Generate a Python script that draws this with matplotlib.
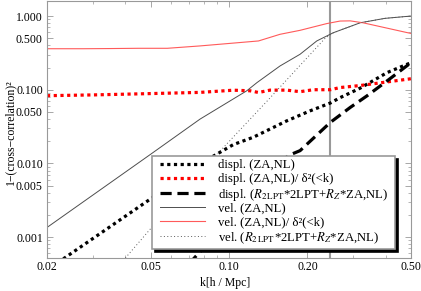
import matplotlib
matplotlib.use("Agg")
import matplotlib.pyplot as plt
from matplotlib.lines import Line2D
from matplotlib.legend_handler import HandlerLine2D
from matplotlib.ticker import FixedLocator, FixedFormatter, NullFormatter

plt.rcParams['font.family'] = ['Liberation Serif', 'DejaVu Serif']
plt.rcParams['mathtext.fontset'] = 'stix'

# values
k_displ_za = [0.022, 0.05, 0.0845, 0.1039, 0.1238, 0.1396, 0.1667, 0.2047, 0.245, 0.267, 0.319, 0.405, 0.5]
displ_za = [0.00045, 0.0033, 0.0118, 0.0180, 0.0226, 0.0278, 0.0378, 0.0516, 0.066, 0.078, 0.105, 0.171, 0.233]

k_displ_ratio = [0.02, 0.03, 0.04, 0.06, 0.0774, 0.1039, 0.1205, 0.1298, 0.1438, 0.1667, 0.1875, 0.2108, 0.245, 0.267, 0.319, 0.5]
displ_ratio = [0.083, 0.085, 0.087, 0.09, 0.092, 0.0985, 0.0967, 0.0917, 0.0987, 0.0987, 0.094, 0.1, 0.1, 0.107, 0.114, 0.141]

k_displ_2lpt = [0.07, 0.0734, 0.1686, 0.1875, 0.245, 0.292, 0.339, 0.405, 0.5]
displ_2lpt = [0.00043, 0.000515, 0.01275, 0.0149, 0.036, 0.0574, 0.0827, 0.132, 0.233]

k_vel_za = [0.02, 0.05, 0.0774, 0.117, 0.1281, 0.157, 0.1875, 0.2173, 0.2517, 0.319, 0.397, 0.5]
vel_za = [0.00135, 0.0133, 0.0399, 0.0967, 0.125, 0.21, 0.303, 0.459, 0.594, 0.81, 0.93, 1.0]

k_vel_ratio = [0.02, 0.0275, 0.035, 0.045, 0.058, 0.0774, 0.1298, 0.157, 0.1875, 0.2374, 0.267, 0.292, 0.327, 0.5]
vel_ratio = [0.36, 0.36, 0.362, 0.365, 0.365, 0.393, 0.459, 0.565, 0.64, 0.79, 0.855, 0.86, 0.81, 0.58]

k_vel_2lpt = [0.04, 0.05, 0.0845, 0.14, 0.234, 0.2517, 0.319, 0.397, 0.5]
vel_2lpt = [0.00052, 0.0013, 0.0105, 0.07, 0.5, 0.594, 0.81, 0.93, 1.0]

k_line = 0.245

labels = [
    'displ. (ZA,NL)',
    'displ. (ZA,NL)/ δ²(<k)',
    r'displ. ($R_{2\,\mathrm{LPT}}$*2LPT+$R_{Z}$*ZA,NL)',
    'vel. (ZA,NL)',
    'vel. (ZA,NL)/ δ²(<k)',
    r'vel. ($R_{2\,\mathrm{LPT}}$*2LPT+$R_{Z}$*ZA,NL)',
]

xticks = [0.02, 0.05, 0.10, 0.20, 0.50]
xticklabels = ['0.02', '0.05', '0.10', '0.20', '0.50']
yticks = [0.001, 0.005, 0.010, 0.050, 0.100, 0.500, 1.000]
yticklabels = ['0.001', '0.005', '0.010', '0.050', '0.100', '0.500', '1.000']

fig = plt.figure(figsize=(4.21, 2.91), dpi=100)
ax = fig.add_axes([47 / 421, 33 / 291, 364 / 421, 257 / 291])

ax.plot(k_displ_za, displ_za, color='k', lw=2.3, ls=(0, (1, 1.1)), label=labels[0])
ax.plot(k_displ_ratio, displ_ratio, color='red', lw=2.3, ls=(0, (1, 1.1)), label=labels[1])
ax.plot(k_displ_2lpt, displ_2lpt, color='k', lw=2.3, ls=(0, (3.5, 1.8)), label=labels[2])
ax.plot(k_vel_za, vel_za, color='0.3', lw=0.7, label=labels[3])
ax.plot(k_vel_ratio, vel_ratio, color='#ff5a5a', lw=0.8, label=labels[4])
ax.plot(k_vel_2lpt, vel_2lpt, color='0.35', lw=0.7, ls=(0, (1, 2.5)), label=labels[5])
ax.axvline(k_line, color='0.6', lw=1.5, zorder=1)

ax.set_xscale('log')
ax.set_yscale('log')
ax.set_xlim(0.02, 0.5)
ax.set_ylim(5.2e-4, 1.6)

ax.xaxis.set_major_locator(FixedLocator(xticks))
ax.xaxis.set_major_formatter(FixedFormatter(xticklabels))
ax.xaxis.set_minor_locator(FixedLocator([0.03, 0.04, 0.06, 0.07, 0.08, 0.09, 0.3, 0.4]))
ax.xaxis.set_minor_formatter(NullFormatter())
ax.yaxis.set_major_locator(FixedLocator(yticks))
ax.yaxis.set_major_formatter(FixedFormatter(yticklabels))
yminor = [m * d for d in [0.0001, 0.001, 0.01, 0.1, 1] for m in [2, 3, 4, 6, 7, 8, 9]]
ax.yaxis.set_minor_locator(FixedLocator(yminor))
ax.yaxis.set_minor_formatter(NullFormatter())

ax.tick_params(which='both', direction='in', top=True, right=True, color='0.6', labelsize=8.5)
ax.tick_params(axis='x', pad=2.5)
ax.tick_params(axis='y', pad=3)
ax.tick_params(which='major', length=4, width=0.6)
ax.tick_params(which='minor', length=2, width=0.5)
for sp in ax.spines.values():
    sp.set_color('0.6')
    sp.set_linewidth(0.8)

ax.set_xlabel('k[h / Mpc]', fontsize=8.5)
ax.xaxis.set_label_coords(0.49, -0.075)
ax.set_ylabel('1−(cross−correlation)²', fontsize=8.5)
ax.yaxis.set_label_coords(-0.085, 0.49)

leg = ax.legend(loc='lower left', bbox_to_anchor=(0.2885, 0.035, 0.6676, 0.3), mode='expand',
                fontsize=9.2, frameon=True, fancybox=False, edgecolor='0.6', facecolor='white',
                framealpha=1, shadow={'color': 'k', 'alpha': 1}, handlelength=3.95,
                handletextpad=1.0, labelspacing=-0.08, borderpad=0.2, borderaxespad=0,
                handler_map={Line2D: HandlerLine2D(xpad=0.4)})
leg.get_frame().set_linewidth(1.2)
# give every legend row the same height (the subscript rows are deeper otherwise)
for col in leg._legend_handle_box.get_children():
    for row in col.get_children():
        da = row.get_children()[0]
        da.ydescent = 4.0
        da.height = 4.0 + 6.8

fig.savefig('out.png', dpi=100)
